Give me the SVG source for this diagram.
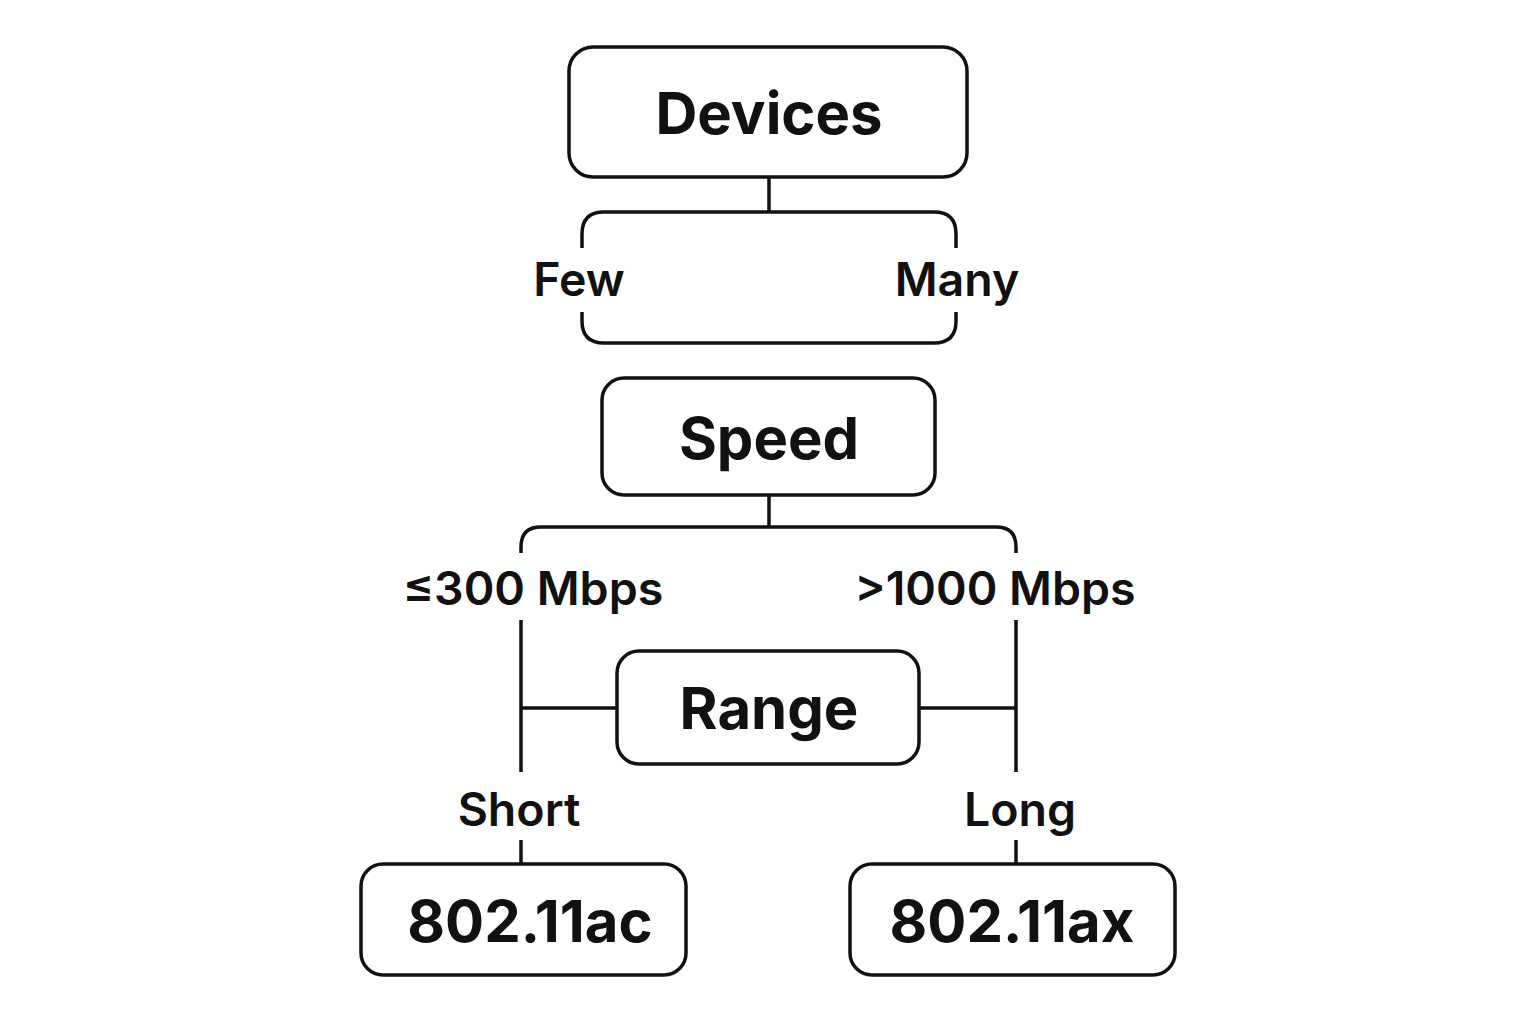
<svg xmlns="http://www.w3.org/2000/svg" width="1536" height="1024" viewBox="0 0 1536 1024">
<style>
.box{fill:#fff;stroke:#111;stroke-width:3.5}
.ln{fill:none;stroke:#111;stroke-width:3.5;stroke-linecap:butt}
.t{font-family:Inter,"Noto Sans",sans-serif;fill:#111;text-anchor:middle}
.big{font-size:58px;font-weight:700}
.lab{font-size:46.5px;font-weight:600}
</style>
<rect width="1536" height="1024" fill="#fff"/>
<g id="connectors">
<path class="ln" d="M769 177V212"/>
<path class="ln" d="M582 248V234Q582 212 604 212H934Q956 212 956 234V248"/>
<path class="ln" d="M582 312V321Q582 343 604 343H934Q956 343 956 321V312"/>
<path class="ln" d="M769 495V527"/>
<path class="ln" d="M521 553V547Q521 527 541 527H996Q1016 527 1016 547V553"/>
<path class="ln" d="M521 620V772"/>
<path class="ln" d="M1016 620V772"/>
<path class="ln" d="M521 708H617"/>
<path class="ln" d="M919 708H1016"/>
<path class="ln" d="M521 840V864"/>
<path class="ln" d="M1016 840V864"/>
</g>
<g id="devices"><rect class="box" x="569" y="47" width="398" height="130" rx="24"/><text class="t big" x="769" y="134" font-size="59">Devices</text></g>
<g id="few"><text class="t lab" x="579" y="296">Few</text></g>
<g id="many"><text class="t lab" x="957" y="296">Many</text></g>
<g id="speed"><rect class="box" x="602" y="378" width="333" height="117" rx="22"/><text class="t big" x="769" y="459">Speed</text></g>
<g id="le300"><text class="t lab" x="533" y="605">≤300 Mbps</text></g>
<g id="gt1000"><text class="t lab" x="995" y="605">&gt;1000 Mbps</text></g>
<g id="range"><rect class="box" x="617" y="651" width="302" height="113" rx="22"/><text class="t big" x="769" y="729">Range</text></g>
<g id="short"><text class="t lab" x="519" y="826">Short</text></g>
<g id="long"><text class="t lab" x="1020" y="826">Long</text></g>
<g id="ac"><rect class="box" x="361" y="864" width="325" height="111" rx="22"/><text class="t big" x="530" y="942" font-size="57">802.11ac</text></g>
<g id="ax"><rect class="box" x="850" y="864" width="325" height="111" rx="22"/><text class="t big" x="1012" y="942" font-size="57">802.11ax</text></g>
</svg>
